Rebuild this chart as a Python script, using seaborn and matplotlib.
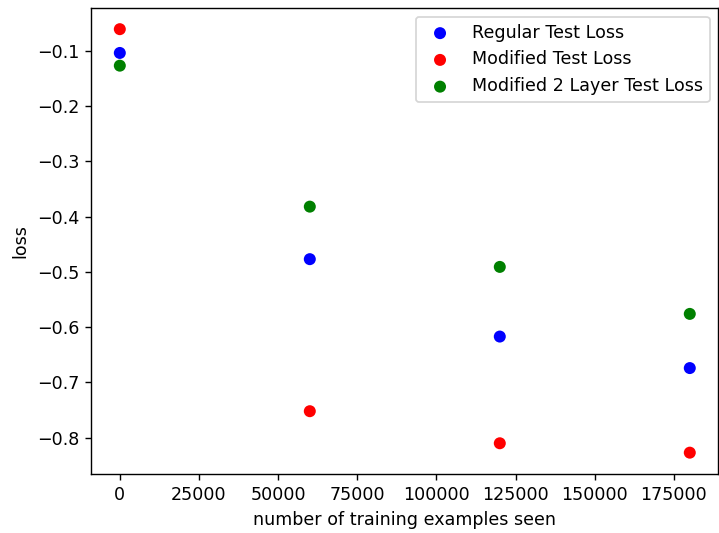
import matplotlib
matplotlib.use("Agg")
import matplotlib.pyplot as plt
import seaborn as sns
import pandas as pd

# training examples seen at each evaluation
examples_seen = [0, 60000, 120000, 180000]

# test losses
regular_loss = [-0.104, -0.477, -0.617, -0.674]
modified_loss = [-0.061, -0.752, -0.810, -0.827]
modified_2layer_loss = [-0.127, -0.382, -0.491, -0.576]

series_names = ["Regular Test Loss", "Modified Test Loss", "Modified 2 Layer Test Loss"]
series_colors = ["blue", "red", "green"]

df = pd.DataFrame({
    "examples": examples_seen * 3,
    "loss": regular_loss + modified_loss + modified_2layer_loss,
    "series": [n for n in series_names for _ in examples_seen],
})

DPI = 126
fig = plt.figure(figsize=(719 / DPI, 533 / DPI), dpi=DPI)
ax = fig.add_axes([0.127, 0.111, 0.872, 0.874])

for name, color in zip(series_names, series_colors):
    sub = df[df["series"] == name]
    sns.scatterplot(data=sub, x="examples", y="loss", color=color, s=47,
                    edgecolor="none", label=name, ax=ax)

ax.legend(loc="upper right")
ax.set_xlabel("number of training examples seen")
ax.set_ylabel("loss")

fig.savefig("out.png", dpi=DPI)
